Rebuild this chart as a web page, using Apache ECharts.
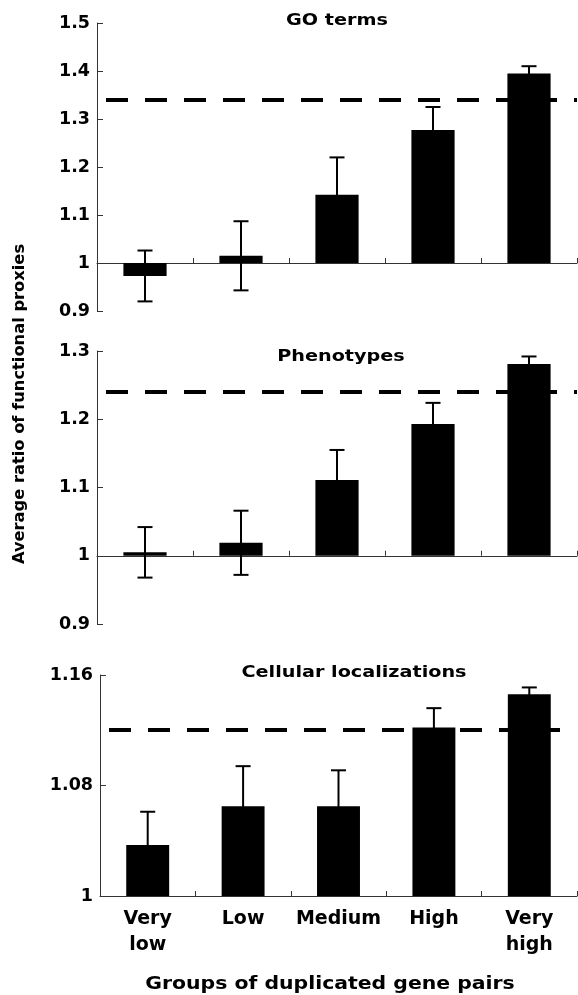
<!DOCTYPE html>
<html>
<head>
<meta charset="utf-8">
<script src="https://cdn.jsdelivr.net/npm/echarts@6/dist/echarts.min.js"></script>
<style>
html,body{margin:0;padding:0;background:#fff;}
#chart{width:578px;height:995px;}
</style>
</head>
<body>
<div id="chart"></div>
<script>
const categories = ['Very\nlow', 'Low', 'Medium', 'High', 'Very\nhigh'];

const goValues = [0.973, 1.015, 1.142, 1.277, 1.395];
const goErrors = [0.053, 0.072, 0.078, 0.048, 0.015];
const goReference = 1.342;

const phenoValues = [1.005, 1.019, 1.111, 1.193, 1.281];
const phenoErrors = [0.037, 0.047, 0.044, 0.031, 0.011];
const phenoReference = 1.236;

const cellValues = [1.037, 1.065, 1.065, 1.122, 1.146];
const cellErrors = [0.024, 0.029, 0.026, 0.014, 0.005];
const cellReference = 1.119;

const panelTitles = ['GO terms', 'Phenotypes', 'Cellular localizations'];
const yRanges = [[0.9, 1.5, 0.1], [0.9, 1.3, 0.1], [1.0, 1.16, 0.08]];
const yAxisTitle = 'Average ratio of functional proxies';
const xAxisTitle = 'Groups of duplicated gene pairs';

const BASE = 1; // bars grow from ratio 1
const FONT = '"DejaVu Sans", sans-serif';

const panels = [
  {values: goValues, errors: goErrors, ref: goReference},
  {values: phenoValues, errors: phenoErrors, ref: phenoReference},
  {values: cellValues, errors: cellErrors, ref: cellReference}
];

const grids = [
  {left: 97, right: 1, top: 23, height: 288},
  {left: 97, right: 1, top: 351, height: 273},
  {left: 100, right: 1, top: 675, height: 221}
];

const chart = echarts.init(document.getElementById('chart'), null, {renderer: 'canvas'});

const xAxes = grids.map((g, i) => ({
  type: 'category',
  gridIndex: i,
  data: categories,
  boundaryGap: true,
  axisLine: {show: true, onZero: true, lineStyle: {color: '#333', width: 1}},
  axisTick: {show: true, inside: true, length: 5, alignWithLabel: false, lineStyle: {color: '#333'}},
  axisLabel: {
    show: i === 2, color: '#000', fontFamily: FONT, fontWeight: 'bold', fontSize: 19,
    lineHeight: 26, margin: 10, interval: 0
  }
}));

const yAxes = yRanges.map((r, i) => ({
  type: 'value',
  gridIndex: i,
  min: r[0] - BASE,
  max: r[1] - BASE,
  interval: r[2],
  splitLine: {show: false},
  axisLine: {show: true, lineStyle: {color: '#333', width: 1}},
  axisTick: {show: true, inside: true, length: 6, lineStyle: {color: '#333'}},
  axisLabel: {
    color: '#000', fontFamily: FONT, fontWeight: 'bold', fontSize: 17.5, margin: 7,
    formatter: v => String(parseFloat((v + BASE).toFixed(3)))
  }
}));

const series = [];
panels.forEach((p, i) => {
  series.push({
    type: 'bar',
    xAxisIndex: i,
    yAxisIndex: i,
    barWidth: '45%',
    itemStyle: {color: '#000'},
    data: p.values.map(v => v - BASE),
    silent: true,
    markLine: {
      silent: true,
      symbol: ['none', 'none'],
      label: {show: false},
      lineStyle: {color: '#000', width: 4, type: [22, 17], dashOffset: 30},
      data: [{yAxis: p.ref - BASE}]
    },
    z: 2
  });
  series.push({
    type: 'custom',
    xAxisIndex: i,
    yAxisIndex: i,
    silent: true,
    encode: {x: 0, y: 1},
    data: p.values.map((v, k) => [k, v - BASE, p.errors[k]]),
    renderItem: function (params, api) {
      const k = api.value(0), v = api.value(1), e = api.value(2);
      const top = api.coord([k, v + e]);
      const bot = api.coord([k, v - e]);
      const hw = 7.5;
      const st = {stroke: '#000', lineWidth: 2};
      return {
        type: 'group',
        children: [
          {type: 'line', shape: {x1: top[0], y1: top[1], x2: bot[0], y2: bot[1]}, style: st},
          {type: 'line', shape: {x1: top[0] - hw, y1: top[1], x2: top[0] + hw, y2: top[1]}, style: st},
          {type: 'line', shape: {x1: bot[0] - hw, y1: bot[1], x2: bot[0] + hw, y2: bot[1]}, style: st}
        ]
      };
    },
    z: 3
  });
});

const titleY = [21, 357, 673];
const titleX = [337, 341, 354];
const graphics = panelTitles.map((t, i) => ({
  type: 'text',
  x: titleX[i],
  y: titleY[i],
  scaleX: 1.2,
  style: {text: t, font: 'bold 16px ' + FONT, fill: '#000', textAlign: 'center', textVerticalAlign: 'middle'}
}));
graphics.push({
  type: 'text',
  x: 330,
  y: 985,
  scaleX: 1.2,
  style: {text: xAxisTitle, font: 'bold 17px ' + FONT, fill: '#000', textAlign: 'center', textVerticalAlign: 'middle'}
});
graphics.push({
  type: 'text',
  x: 20,
  y: 404,
  rotation: Math.PI / 2,
  style: {text: yAxisTitle, font: 'bold 16.3px ' + FONT, fill: '#000', textAlign: 'center', textVerticalAlign: 'middle'}
});

chart.setOption({
  animation: false,
  backgroundColor: '#fff',
  grid: grids,
  xAxis: xAxes,
  yAxis: yAxes,
  series: series,
  graphic: graphics
});
</script>
</body>
</html>
